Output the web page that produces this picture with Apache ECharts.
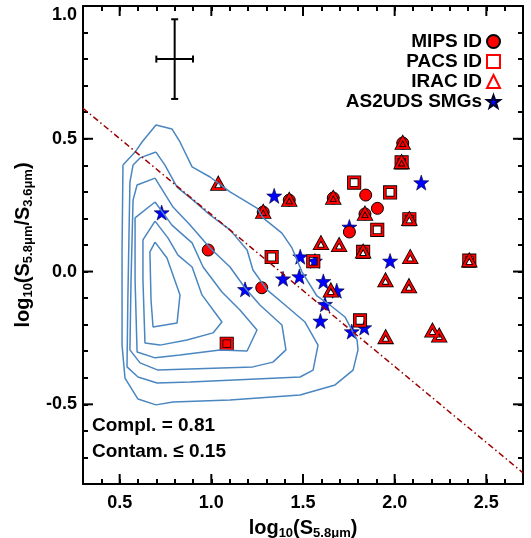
<!DOCTYPE html>
<html><head><meta charset="utf-8">
<script src="https://cdn.jsdelivr.net/npm/echarts@6/dist/echarts.min.js"></script>
<style>html,body{margin:0;padding:0;background:#fff}#c{width:531px;height:538px}</style>
</head><body><div id="c"></div>
<script>
// ---- axis ticks ----
const xMajorTicks = [0.5, 1.0, 1.5, 2.0, 2.5];
const xMinorTicks = [0.3,0.4,0.5,0.6,0.7,0.8,0.9,1.0,1.1,1.2,1.3,1.4,1.5,1.6,1.7,1.8,1.9,2.0,2.1,2.2,2.3,2.4,2.5,2.6,2.7];
const yMajorTicks = [-0.5, 0.0, 0.5, 1.0];
const yMinorTicks = [-0.8,-0.7,-0.6,-0.5,-0.4,-0.3,-0.2,-0.1,0.0,0.1,0.2,0.3,0.4,0.5,0.6,0.7,0.8,0.9,1.0];

// ---- data ----
const mipsPoints = [[0.983,0.081],[1.275,-0.061],[1.283,0.224],[1.425,0.269],[1.665,0.277],[1.842,0.288],[1.838,0.217],[1.906,0.238],[1.753,0.149],[2.044,0.484],[2.038,0.411],[1.084,-0.272]];
const pacsPoints = [[1.329,0.055],[1.779,0.335],[1.975,0.298],[1.905,0.157],[2.080,0.197],[1.828,0.074],[2.407,0.041],[1.556,0.039],[1.811,-0.184],[2.038,0.411],[1.084,-0.272]];
const iracPoints = [[1.038,0.330],[1.283,0.224],[1.425,0.269],[1.665,0.277],[1.838,0.217],[2.044,0.484],[2.038,0.411],[2.080,0.197],[1.828,0.074],[2.407,0.041],[1.598,0.106],[1.697,0.099],[2.085,0.054],[1.950,-0.034],[2.078,-0.056],[1.652,-0.072],[1.951,-0.248],[2.206,-0.223],[2.243,-0.242]];
const smgPoints = [[0.729,0.222],[1.184,-0.067],[1.343,0.285],[1.485,0.056],[1.565,0.040],[1.391,-0.027],[1.480,-0.019],[1.611,-0.037],[1.684,-0.072],[1.620,-0.123],[1.595,-0.186],[1.766,-0.226],[1.834,-0.211],[1.753,0.168],[1.975,0.040],[2.145,0.335]];

const contour1 = [[0.518,0.401],[0.584,0.450],[0.622,0.488],[0.698,0.552],[0.785,0.537],[0.829,0.488],[0.895,0.394],[0.993,0.356],[1.102,0.300],[1.249,0.239],[1.282,0.202],[1.385,0.145],[1.440,0.089],[1.495,-0.002],[1.576,-0.092],[1.647,-0.126],[1.729,-0.171],[1.795,-0.258],[1.800,-0.295],[1.773,-0.371],[1.675,-0.427],[1.484,-0.465],[1.102,-0.484],[0.791,-0.491],[0.698,-0.502],[0.600,-0.480],[0.529,-0.401],[0.513,-0.277],[0.513,0.081],[0.518,0.401]];
const contour2 = [[0.698,0.450],[0.747,0.401],[0.813,0.318],[0.900,0.269],[0.993,0.213],[1.102,0.157],[1.195,0.081],[1.227,0.006],[1.304,-0.069],[1.402,-0.126],[1.511,-0.190],[1.582,-0.277],[1.555,-0.371],[1.484,-0.397],[0.884,-0.416],[0.704,-0.420],[0.600,-0.397],[0.540,-0.359],[0.545,-0.088],[0.556,0.337],[0.573,0.401],[0.611,0.428],[0.698,0.450]];
const contour3 = [[0.693,0.352],[0.791,0.243],[0.884,0.175],[0.993,0.089],[1.102,0.017],[1.184,-0.062],[1.265,-0.126],[1.385,-0.201],[1.407,-0.295],[1.336,-0.341],[1.227,-0.359],[0.709,-0.371],[0.611,-0.344],[0.556,-0.295],[0.562,-0.032],[0.573,0.269],[0.595,0.326],[0.693,0.352]];
const contour4 = [[0.693,0.262],[0.785,0.175],[0.895,0.108],[0.955,0.017],[1.058,-0.077],[1.156,-0.145],[1.249,-0.220],[1.195,-0.299],[1.047,-0.295],[0.829,-0.314],[0.693,-0.325],[0.595,-0.303],[0.584,-0.032],[0.584,0.202],[0.693,0.262]];
const contour5 = [[0.693,0.190],[0.764,0.126],[0.818,0.062],[0.895,0.017],[0.949,-0.088],[1.058,-0.190],[1.009,-0.231],[0.867,-0.258],[0.720,-0.277],[0.638,-0.269],[0.627,-0.032],[0.627,0.119],[0.693,0.190]];
const contour6 = [[0.693,0.111],[0.758,0.051],[0.829,-0.088],[0.813,-0.194],[0.682,-0.209],[0.671,-0.107],[0.665,0.074],[0.693,0.111]];
const contours = [contour1, contour2, contour3, contour4, contour5, contour6];

const cutLine = [[0.3,0.615],[2.7,-0.758]];
const errCenter = [0.8, 0.8];
const errX = 0.1;
const errY = 0.15;

const legendNames = ['MIPS ID','PACS ID','IRAC ID','AS2UDS SMGs'];
const annotations = ['Compl. = 0.81', 'Contam. \u2264 0.15'];

// ---- styling ----
const FONT = 'Liberation Sans';
const starPath = 'path://M0,-10L2.35,-3.24L9.51,-3.09L3.8,1.24L5.88,8.09L0,4L-5.88,8.09L-3.8,1.24L-9.51,-3.09L-2.35,-3.24Z';
const fmt = v => Number(v).toFixed(1);
const X_MIN = 0.3, X_MAX = 2.7, Y_MIN = -0.8, Y_MAX = 1.0;

// one axis per side: short (minor) ticks every 0.1 and labels every 0.5
function sideAxis(kind, pos, major, minor, withLabel) {
  return {type:'value', min: kind==='x'?X_MIN:Y_MIN, max: kind==='x'?X_MAX:Y_MAX, position: pos, offset:0,
    splitLine:{show:false},
    axisLine:{show:true, onZero:false, lineStyle:{color:'#000', width:2}},
    axisTick:{show:true, inside:true, length:5, lineStyle:{color:'#000', width:2}, customValues: minor},
    axisLabel: withLabel ? {show:true, customValues: major, formatter: fmt, color:'#000',
      fontFamily: FONT, fontWeight:'bold', fontSize:18, margin: kind==='x'?10:6,
      verticalAlignMaxLabel: kind==='y' ? 'top' : undefined} : {show:false}
  };
}
const xAxes = [sideAxis('x','bottom',xMajorTicks,xMinorTicks,true), sideAxis('x','top',xMajorTicks,xMinorTicks,false)];
const yAxes = [sideAxis('y','left',yMajorTicks,yMinorTicks,true), sideAxis('y','right',yMajorTicks,yMinorTicks,false)];

const nameStyle = {color:'#000', fontFamily:FONT, fontWeight:'bold', fontSize:20, lineHeight:23,
  rich:{s:{fontFamily:FONT, fontWeight:'bold', fontSize:13, lineHeight:13, verticalAlign:'bottom'}}};
xAxes[0].name = 'log{s|10}(S{s|5.8\u03bcm})';
xAxes[0].nameLocation = 'middle';
xAxes[0].nameGap = 26;
xAxes[0].nameTextStyle = nameStyle;
yAxes[0].name = 'log{s|10}(S{s|5.8\u03bcm}/S{s|3.6\u03bcm})';
yAxes[0].nameLocation = 'middle';
yAxes[0].nameRotate = 90;
yAxes[0].nameGap = 35;
yAxes[0].nameTextStyle = nameStyle;

const series = [];
contours.forEach((c, i) => series.push({
  type:'line', name:'contour'+i, data:c, symbol:'none', silent:true, animation:false,
  lineStyle:{color:'#4a86c0', width:1.5}
}));
series.push({type:'line', name:'cut', data:cutLine, symbol:'none', animation:false,
  lineStyle:{color:'#9a0000', width:1.5, type:[6,3,1.5,3]}});
// long (major) ticks on all four sides, placed through the axis scales
series.push({type:'custom', name:'majorTicksX', data:xMajorTicks.map(v => [v, Y_MIN]), animation:false, silent:true, clip:false,
  encode:{x:0, y:1},
  renderItem: function(params, api){
    const v = api.value(0);
    const b = api.coord([v, Y_MIN]), t = api.coord([v, Y_MAX]);
    const st = {stroke:'#000', lineWidth:2};
    return {type:'group', children:[
      {type:'line', shape:{x1:b[0], y1:b[1], x2:b[0], y2:b[1]-10}, style:st},
      {type:'line', shape:{x1:t[0], y1:t[1], x2:t[0], y2:t[1]+10}, style:st}
    ]};
  }});
series.push({type:'custom', name:'majorTicksY', data:yMajorTicks.map(v => [X_MIN, v]), animation:false, silent:true, clip:false,
  encode:{x:0, y:1},
  renderItem: function(params, api){
    const v = api.value(1);
    const l = api.coord([X_MIN, v]), r = api.coord([X_MAX, v]);
    const st = {stroke:'#000', lineWidth:2};
    return {type:'group', children:[
      {type:'line', shape:{x1:l[0], y1:l[1], x2:l[0]+10, y2:l[1]}, style:st},
      {type:'line', shape:{x1:r[0], y1:r[1], x2:r[0]-10, y2:r[1]}, style:st}
    ]};
  }});
series.push({type:'custom', name:'err', data:[errCenter], animation:false, encode:{x:0, y:1},
  renderItem: function(params, api){
    const x = api.value(0), y = api.value(1);
    const l = api.coord([x-errX, y]), r = api.coord([x+errX, y]);
    const t = api.coord([x, y+errY]), b = api.coord([x, y-errY]);
    const st = {stroke:'#000', lineWidth:2};
    const cap = 3.5;
    const ln = (x1,y1,x2,y2) => ({type:'line', shape:{x1,y1,x2,y2}, style:st});
    return {type:'group', children:[
      ln(l[0],l[1],r[0],r[1]), ln(t[0],t[1],b[0],b[1]),
      ln(l[0],l[1]-cap,l[0],l[1]+cap), ln(r[0],r[1]-cap,r[0],r[1]+cap),
      ln(t[0]-cap,t[1],t[0]+cap,t[1]), ln(b[0]-cap,b[1],b[0]+cap,b[1])
    ]};
  }});
series.push({type:'scatter', name:legendNames[3], data:smgPoints, symbol:starPath, symbolSize:15, animation:false,
  itemStyle:{color:'#0000ff', borderColor:'#00002a', borderWidth:0.6, opacity:1}});
series.push({type:'scatter', name:legendNames[0], data:mipsPoints, symbol:'circle', symbolSize:12, animation:false,
  itemStyle:{color:'#ff0000', borderColor:'#000', borderWidth:1, opacity:1}});
series.push({type:'scatter', name:'pacsEdge', data:pacsPoints, symbol:'rect', symbolSize:10.5, animation:false,
  itemStyle:{color:'rgba(0,0,0,0)', borderColor:'#000', borderWidth:3.6, opacity:1}});
series.push({type:'scatter', name:legendNames[1], data:pacsPoints, symbol:'rect', symbolSize:10.5, animation:false,
  itemStyle:{color:'rgba(0,0,0,0)', borderColor:'#ff0000', borderWidth:2, opacity:1}});
series.push({type:'scatter', name:'iracEdge', data:iracPoints, symbol:'triangle', symbolSize:[11,10], animation:false,
  itemStyle:{color:'rgba(0,0,0,0)', borderColor:'#000', borderWidth:3.6, opacity:1}});
series.push({type:'scatter', name:legendNames[2], data:iracPoints, symbol:'triangle', symbolSize:[11,10], animation:false,
  itemStyle:{color:'rgba(0,0,0,0)', borderColor:'#ff0000', borderWidth:2, opacity:1}});

const option = {
  backgroundColor:'#fff',
  animation:false,
  grid:{left:83, right:8, top:6, bottom:54, containLabel:false, outerBoundsMode:'none'},
  xAxis: xAxes,
  yAxis: yAxes,
  legend:{data:legendNames, orient:'vertical', right:25, top:27, align:'right', selectedMode:false,
    itemWidth:13, itemHeight:13, itemGap:1,
    textStyle:{color:'#000', fontFamily:FONT, fontWeight:'bold', fontSize:19, lineHeight:18}},
  graphic:[
    {type:'text', left:92, top:416, style:{text:annotations[0], fill:'#000', font:'bold 19px "Liberation Sans"'}},
    {type:'text', left:92, top:442, style:{text:annotations[1], fill:'#000', font:'bold 19px "Liberation Sans"'}}
  ],
  series: series
};
const chart = echarts.init(document.getElementById('c'), null, {renderer:'canvas'});
chart.setOption(option);
</script></body></html>
